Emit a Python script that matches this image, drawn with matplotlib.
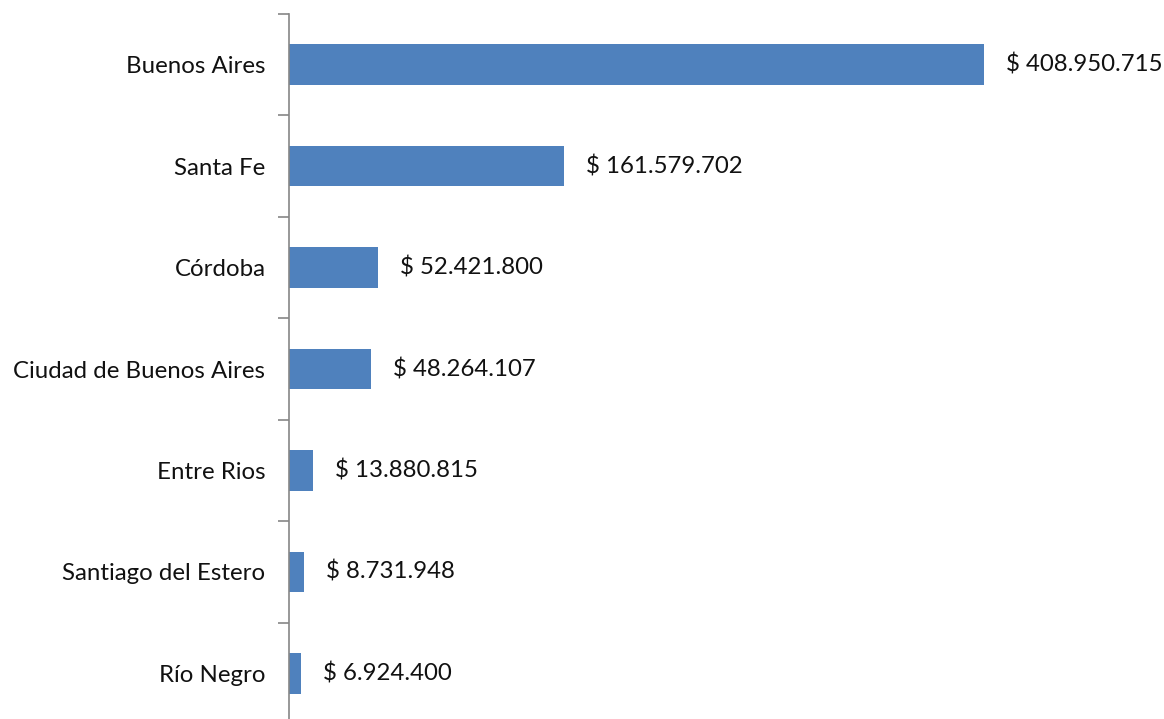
import matplotlib.pyplot as plt
from matplotlib.ticker import FixedLocator

provincias = ["Buenos Aires", "Santa Fe", "Córdoba", "Ciudad de Buenos Aires",
              "Entre Rios", "Santiago del Estero", "Río Negro"]
montos = [408950715, 161579702, 52421800, 48264107, 13880815, 8731948, 6924400]

plt.rcParams['font.family'] = ['Lato', 'DejaVu Sans']

fig = plt.figure(figsize=(11.64, 7.19), dpi=100)
ax = fig.add_axes([0.2483, -0.007, 0.7517, 0.9875])

y = list(range(len(provincias)))[::-1]
ax.barh(y, montos, height=0.4, color='#4F81BD')

for yi, m in zip(y, montos):
    txt = "$ " + f"{m:,}".replace(",", ".")
    ax.text(m + 13e6, yi, txt, va='center', ha='left', fontsize=17.3, color='#111111')

ax.set_xlim(0, 515e6)
ax.set_ylim(-0.5, len(provincias) - 0.5)
ax.set_yticks(y)
ax.set_yticklabels(provincias, fontsize=17.3, color='#111111')
ax.tick_params(axis='y', which='major', length=0, pad=17)
ax.yaxis.set_minor_locator(FixedLocator([i + 0.5 for i in range(-1, len(provincias))]))
ax.tick_params(axis='y', which='minor', length=8, width=1.2, color='#868686')
ax.set_xticks([])

for s in ['top', 'right', 'bottom']:
    ax.spines[s].set_visible(False)
ax.spines['left'].set_color('#868686')
ax.spines['left'].set_linewidth(1.2)

fig.savefig('out.png', dpi=100)
